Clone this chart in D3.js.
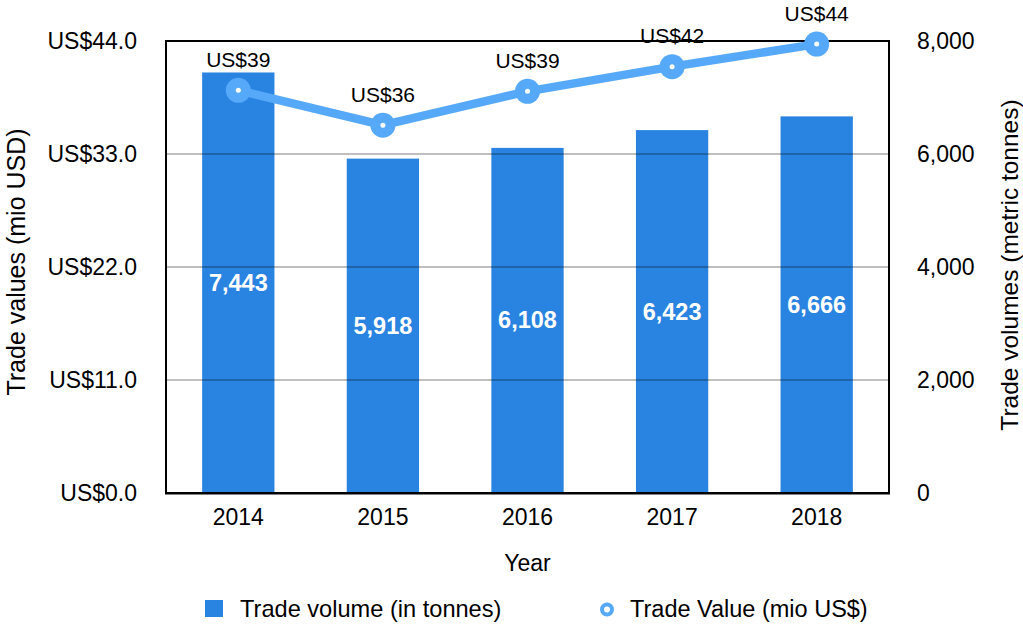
<!DOCTYPE html>
<html>
<head>
<meta charset="utf-8">
<script src="https://cdn.jsdelivr.net/npm/d3@7"></script>
<style>
html,body{margin:0;padding:0;background:#fff;}
svg{display:block;font-family:"Liberation Sans",Arial,Helvetica,sans-serif;}
</style>
</head>
<body>
<svg id="chart" width="1023" height="624"></svg>
<script>
const years = ["2014", "2015", "2016", "2017", "2018"];
const volumes = [7443, 5918, 6108, 6423, 6666];
const tradeValues = [39.2, 35.8, 39.1, 41.5, 43.7];
const leftTicks = [0, 11, 22, 33, 44];
const rightTicks = [0, 2000, 4000, 6000, 8000];
const leftTitle = "Trade values (mio USD)";
const rightTitle = "Trade volumes (metric tonnes)";
const xTitle = "Year";
const legendLabels = ["Trade volume (in tonnes)", "Trade Value (mio US$)"];

const barColor = "#2983e0";
const lineColor = "#56a9f8";

const svg = d3.select("#chart");
const m = {left: 166, right: 889, top: 41, bottom: 493};

const x = d3.scaleBand().domain(years).range([m.left, m.right]).paddingInner(0.5).paddingOuter(0.25);
const yL = d3.scaleLinear().domain([0, 44]).range([m.bottom, m.top]);
const yR = d3.scaleLinear().domain([0, 8000]).range([m.bottom, m.top]);

// bars
svg.append("g").selectAll("rect").data(years).join("rect")
  .attr("x", d => x(d))
  .attr("y", (d, i) => yR(volumes[i]))
  .attr("width", x.bandwidth())
  .attr("height", (d, i) => m.bottom - yR(volumes[i]))
  .attr("fill", barColor);

// gridlines
svg.append("g").selectAll("line").data(leftTicks.filter(t => t > 0 && t < 44)).join("line")
  .attr("x1", m.left).attr("x2", m.right)
  .attr("y1", d => yL(d)).attr("y2", d => yL(d))
  .attr("stroke", "rgba(0,0,0,0.25)").attr("stroke-width", 2);

// frame
svg.append("rect").attr("x", m.left).attr("y", m.top)
  .attr("width", m.right - m.left).attr("height", m.bottom - m.top)
  .attr("fill", "none").attr("stroke", "#000").attr("stroke-width", 2);
svg.append("line").attr("x1", m.left - 1).attr("x2", m.right + 1)
  .attr("y1", m.bottom + 0.5).attr("y2", m.bottom + 0.5)
  .attr("stroke", "#000").attr("stroke-width", 2);

// bar labels
svg.append("g").selectAll("text").data(years).join("text")
  .attr("x", d => x(d) + x.bandwidth() / 2)
  .attr("y", (d, i) => (yR(volumes[i]) + m.bottom) / 2)
  .attr("text-anchor", "middle").attr("dominant-baseline", "central")
  .attr("fill", "#fff").attr("font-weight", "bold").attr("font-size", 23.5)
  .text((d, i) => d3.format(",")(volumes[i]));

// left axis
const axL = d3.axisLeft(yL).tickValues(leftTicks).tickSize(0).tickPadding(29)
  .tickFormat(d => "US$" + d3.format(".1f")(d));
const gL = svg.append("g").attr("transform", `translate(${m.left},0)`).call(axL);
gL.select(".domain").remove();
gL.selectAll("text").attr("font-size", 23).attr("fill", "#000").attr("font-family", null);

// right axis
const axR = d3.axisRight(yR).tickValues(rightTicks).tickSize(0).tickPadding(28)
  .tickFormat(d3.format(","));
const gR = svg.append("g").attr("transform", `translate(${m.right},0)`).call(axR);
gR.select(".domain").remove();
gR.selectAll("text").attr("font-size", 23).attr("fill", "#000").attr("font-family", null);

// x axis
const axX = d3.axisBottom(x).tickSize(0).tickPadding(16);
const gX = svg.append("g").attr("transform", `translate(0,${m.bottom})`).call(axX);
gX.select(".domain").remove();
gX.selectAll("text").attr("font-size", 23).attr("fill", "#000").attr("font-family", null);

// line
const cx = d => x(d) + x.bandwidth() / 2;
const line = d3.line().x((d, i) => cx(years[i])).y(d => yL(d));
svg.append("path").datum(tradeValues).attr("d", line)
  .attr("fill", "none").attr("stroke", lineColor).attr("stroke-width", 8.5)
  .attr("stroke-linejoin", "round");
svg.append("g").selectAll("circle").data(tradeValues).join("circle")
  .attr("cx", (d, i) => cx(years[i])).attr("cy", d => yL(d)).attr("r", 12.5)
  .attr("fill", lineColor);
svg.append("g").selectAll("circle").data(tradeValues).join("circle")
  .attr("cx", (d, i) => cx(years[i])).attr("cy", d => yL(d)).attr("r", 2.5)
  .attr("fill", "#fff");
svg.append("g").selectAll("text").data(tradeValues).join("text")
  .attr("x", (d, i) => cx(years[i])).attr("y", d => yL(d) - 31)
  .attr("text-anchor", "middle").attr("dominant-baseline", "central")
  .attr("font-size", 21).attr("fill", "#000")
  .text(d => "US$" + d3.format(".0f")(d));

// axis titles
svg.append("text").attr("transform", `translate(16,${(m.top + m.bottom) / 2 - 5}) rotate(-90)`)
  .attr("text-anchor", "middle").attr("dominant-baseline", "central")
  .attr("font-size", 25).text(leftTitle);
svg.append("text").attr("transform", `translate(1009,${(m.top + m.bottom) / 2 - 2}) rotate(-90)`)
  .attr("text-anchor", "middle").attr("dominant-baseline", "central")
  .attr("font-size", 24.5).text(rightTitle);
svg.append("text").attr("x", (m.left + m.right) / 2).attr("y", 563)
  .attr("text-anchor", "middle").attr("dominant-baseline", "central")
  .attr("font-size", 23).text(xTitle);

// legend
const lg = svg.append("g");
lg.append("rect").attr("x", 205).attr("y", 600).attr("width", 18).attr("height", 17).attr("fill", barColor);
lg.append("text").attr("x", 240).attr("y", 609).attr("dominant-baseline", "central")
  .attr("font-size", 23.6).text(legendLabels[0]);
lg.append("circle").attr("cx", 607).attr("cy", 609.5).attr("r", 5)
  .attr("fill", "#fff").attr("stroke", lineColor).attr("stroke-width", 4);
lg.append("text").attr("x", 630).attr("y", 609).attr("dominant-baseline", "central")
  .attr("font-size", 23.5).text(legendLabels[1]);
</script>
</body>
</html>
